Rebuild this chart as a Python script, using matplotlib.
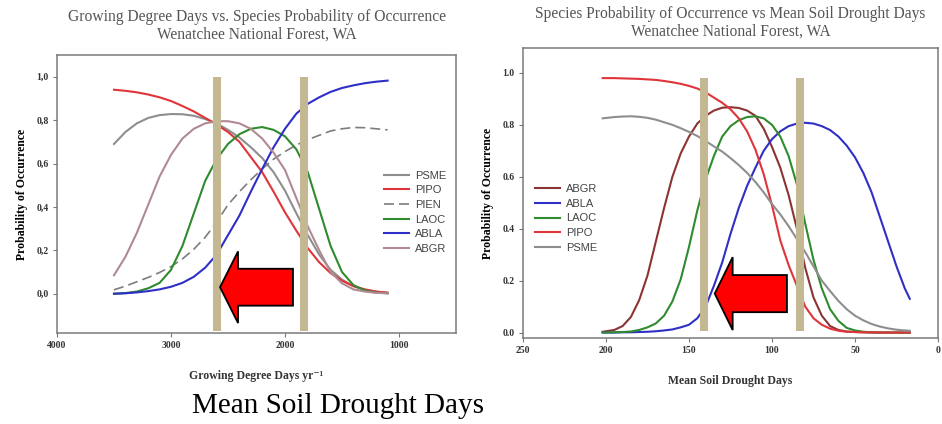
import numpy as np
import matplotlib
matplotlib.use("Agg")
import matplotlib.pyplot as plt
from matplotlib.patches import FancyArrow
from matplotlib.ticker import FuncFormatter

plt.rcParams['font.family'] = ['Liberation Serif', 'DejaVu Serif']
plt.rcParams['lines.solid_joinstyle'] = 'round'

# ---- left panel: growing degree days ----
gdd = [3500, 3400, 3300, 3200, 3100, 3000, 2900, 2800, 2700, 2600, 2500, 2400, 2300,
       2200, 2100, 2000, 1900, 1800, 1700, 1600, 1500, 1400, 1300, 1200, 1100]
gdd_psme = [0.69, 0.745, 0.785, 0.81, 0.823, 0.828, 0.827, 0.82, 0.805, 0.785, 0.755, 0.72, 0.675,
            0.625, 0.56, 0.475, 0.37, 0.27, 0.18, 0.11, 0.065, 0.035, 0.018, 0.009, 0.004]
gdd_pipo = [0.94, 0.935, 0.928, 0.918, 0.905, 0.888, 0.865, 0.84, 0.81, 0.78, 0.745, 0.70, 0.63,
            0.56, 0.47, 0.375, 0.29, 0.21, 0.145, 0.095, 0.06, 0.035, 0.02, 0.01, 0.005]
gdd_pien = [0.018, 0.035, 0.055, 0.075, 0.098, 0.125, 0.16, 0.205, 0.26, 0.33, 0.41, 0.47, 0.525,
            0.575, 0.62, 0.655, 0.685, 0.71, 0.73, 0.75, 0.76, 0.766, 0.765, 0.76, 0.755]
gdd_laoc = [0.0, 0.003, 0.01, 0.025, 0.05, 0.11, 0.22, 0.37, 0.52, 0.62, 0.69, 0.735, 0.76,
            0.768, 0.755, 0.725, 0.665, 0.56, 0.39, 0.22, 0.1, 0.04, 0.015, 0.005, 0.002]
gdd_abla = [0.0, 0.002, 0.006, 0.012, 0.02, 0.032, 0.05, 0.078, 0.12, 0.18, 0.27, 0.36, 0.47,
            0.575, 0.675, 0.76, 0.83, 0.875, 0.905, 0.93, 0.948, 0.96, 0.97, 0.977, 0.982]
gdd_abgr = [0.085, 0.17, 0.28, 0.41, 0.54, 0.64, 0.715, 0.76, 0.785, 0.795, 0.795, 0.785, 0.76,
            0.715, 0.65, 0.57, 0.44, 0.31, 0.2, 0.1, 0.048, 0.02, 0.01, 0.004, 0.002]

# ---- right panel: mean soil drought days ----
drought = [202, 195, 190, 185, 180, 175, 170, 165, 160, 155, 150, 145, 140, 135, 130, 125, 120,
           115, 110, 105, 100, 95, 90, 85, 80, 75, 70, 65, 60, 55, 50, 45, 40, 35, 30, 25, 20, 17]
dr_abgr = [0.003, 0.01, 0.025, 0.06, 0.125, 0.22, 0.35, 0.48, 0.6, 0.69, 0.755, 0.805, 0.835,
           0.855, 0.866, 0.868, 0.865, 0.855, 0.835, 0.785, 0.715, 0.635, 0.53, 0.4, 0.25, 0.135,
           0.065, 0.025, 0.01, 0.004, 0.002, 0.001, 0.0, 0.0, 0.0, 0.0, 0.0, 0.0]
dr_abla = [0.0, 0.0, 0.001, 0.001, 0.002, 0.003, 0.005, 0.008, 0.012, 0.02, 0.03, 0.055, 0.1,
           0.18, 0.27, 0.38, 0.48, 0.565, 0.635, 0.7, 0.745, 0.775, 0.795, 0.805, 0.808, 0.805,
           0.795, 0.78, 0.755, 0.72, 0.675, 0.615, 0.54, 0.445, 0.35, 0.255, 0.17, 0.13]
dr_laoc = [0.0, 0.001, 0.002, 0.004, 0.01, 0.02, 0.035, 0.065, 0.12, 0.205, 0.33, 0.47, 0.59,
           0.68, 0.755, 0.795, 0.818, 0.83, 0.833, 0.825, 0.8, 0.755, 0.68, 0.57, 0.42, 0.28,
           0.17, 0.09, 0.045, 0.018, 0.008, 0.003, 0.001, 0.0, 0.0, 0.0, 0.0, 0.0]
dr_pipo = [0.98, 0.98, 0.979, 0.978, 0.977, 0.975, 0.973, 0.969, 0.964, 0.958, 0.95, 0.94, 0.925,
           0.905, 0.885, 0.86, 0.825, 0.775, 0.705, 0.61, 0.49, 0.355, 0.26, 0.18, 0.10, 0.055,
           0.03, 0.015, 0.007, 0.003, 0.002, 0.001, 0.001, 0.0, 0.0, 0.0, 0.0, 0.0]
dr_psme = [0.825, 0.83, 0.832, 0.833, 0.831, 0.827, 0.82, 0.81, 0.8, 0.787, 0.773, 0.757, 0.738,
           0.717, 0.697, 0.672, 0.645, 0.615, 0.58, 0.54, 0.495, 0.455, 0.41, 0.36, 0.31, 0.255,
           0.20, 0.16, 0.122, 0.09, 0.065, 0.047, 0.033, 0.023, 0.016, 0.011, 0.008, 0.007]

gdd_bars = [2600, 1830]
dr_bars = [141, 83]

c_gray = '#8e8e8e'
c_red = '#e0343a'
c_green = '#2e8b2e'
c_blue = '#2f2fc8'
c_mauve = '#b08a92'
c_dkred = '#8a3434'
c_beige = '#c3b892'
frame = '#7a7a7a'

fig = plt.figure(figsize=(9.42, 4.24), dpi=100)
W, H = 942, 424


def style_axes(ax):
    for s in ax.spines.values():
        s.set_color(frame)
        s.set_linewidth(1.1)
    ax.tick_params(direction='out', length=3, width=0.8, color=frame,
                   labelsize=7, labelcolor='#333333', pad=3)
    for lab in ax.get_xticklabels() + ax.get_yticklabels():
        lab.set_fontweight('bold')


lw = 1.5
leg_kw = dict(frameon=False, prop={'family': 'Liberation Sans', 'size': 8}, handlelength=2.25,
              labelspacing=0.42, handletextpad=0.55, labelcolor='#444444')

# left
ax1 = fig.add_axes([57 / W, 1 - 333 / H, (456 - 57) / W, (333 - 55) / H])
ax1.plot(gdd, gdd_psme, color=c_gray, lw=lw, label='PSME')
ax1.plot(gdd, gdd_pipo, color=c_red, lw=lw, label='PIPO')
ax1.plot(gdd, gdd_pien, color='#7d7d7d', lw=1.2, ls=(0, (6, 3)), label='PIEN')
ax1.plot(gdd, gdd_laoc, color=c_green, lw=lw, label='LAOC')
ax1.plot(gdd, gdd_abla, color=c_blue, lw=lw, label='ABLA')
ax1.plot(gdd, gdd_abgr, color=c_mauve, lw=lw, label='ABGR')
ax1.set_xlim(4000, 500)
ax1.set_ylim(-0.181, 1.10)
ax1.set_xticks([4000, 3000, 2000, 1000])
ax1.set_yticks([0.0, 0.2, 0.4, 0.6, 0.8, 1.0])
ax1.yaxis.set_major_formatter(FuncFormatter(lambda v, p: f"{v:.1f}".replace('.', ',')))
ax1.vlines(gdd_bars, -0.17, 1.0, color=c_beige, lw=5.8, zorder=5)
ax1.add_patch(FancyArrow(1930, 0.03, 640, 0, width=0.17, head_width=0.33, head_length=158,
                         length_includes_head=True, facecolor='#ff0000', edgecolor='black',
                         lw=1.3, zorder=6))
ax1.set_ylabel('Probability of Occurrence', fontsize=8.5, fontweight='bold', labelpad=6)
ax1.set_xlabel('Growing Degree Days yr\u207b\u00b9', fontsize=8.5, fontweight='bold',
               labelpad=14, color='#333333')
ax1.legend(loc='upper left', bbox_to_anchor=(0.795, 0.62), **leg_kw)
ax1.set_title('Growing Degree Days vs. Species Probability of Occurrence\nWenatchee National Forest, WA',
              fontsize=11.2, color='#555555', pad=12, linespacing=1.1)
style_axes(ax1)

# right
ax2 = fig.add_axes([523 / W, 1 - 338 / H, (938 - 523) / W, (338 - 48) / H])
ax2.plot(drought, dr_abgr, color=c_dkred, lw=lw, label='ABGR')
ax2.plot(drought, dr_abla, color=c_blue, lw=lw, label='ABLA')
ax2.plot(drought, dr_laoc, color=c_green, lw=lw, label='LAOC')
ax2.plot(drought, dr_pipo, color=c_red, lw=lw, label='PIPO')
ax2.plot(drought, dr_psme, color=c_gray, lw=lw, label='PSME')
ax2.set_xlim(250, 0)
ax2.set_ylim(-0.021, 1.096)
ax2.set_xticks([250, 200, 150, 100, 50, 0])
ax2.set_yticks([0.0, 0.2, 0.4, 0.6, 0.8, 1.0])
ax2.yaxis.set_major_formatter(FuncFormatter(lambda v, p: f"{v:.1f}"))
ax2.vlines(dr_bars, 0.006, 0.98, color=c_beige, lw=5.8, zorder=5)
ax2.add_patch(FancyArrow(91, 0.15, 43.5, 0, width=0.143, head_width=0.281, head_length=10.8,
                         length_includes_head=True, facecolor='#ff0000', edgecolor='black',
                         lw=1.3, zorder=6))
ax2.set_ylabel('Probability of Occurrence', fontsize=8.5, fontweight='bold', labelpad=6)
ax2.set_xlabel('Mean Soil Drought Days', fontsize=8.5, fontweight='bold', labelpad=14,
               color='#333333')
ax2.legend(loc='upper left', bbox_to_anchor=(0.005, 0.565), **leg_kw)
ax2.set_title('Species Probability of Occurrence vs Mean Soil Drought Days\nWenatchee National Forest, WA',
              fontsize=11.2, color='#555555', pad=9, linespacing=1.1)
style_axes(ax2)

fig.text(192 / W, 1 - 413 / H, 'Mean Soil Drought Days', fontsize=21, color='black',
         ha='left', va='baseline')

fig.savefig('out.png', dpi=100)
